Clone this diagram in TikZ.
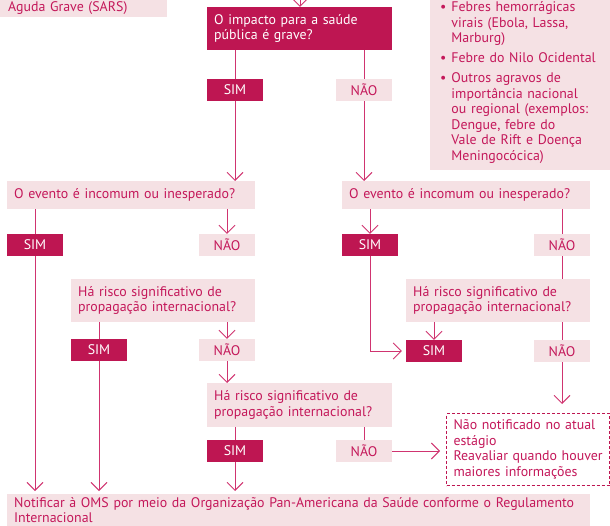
\documentclass[tikz,border=0pt]{standalone}
\usepackage{fontspec}
\setmainfont{PT Sans}
\usetikzlibrary{arrows.meta}

\definecolor{wine}{RGB}{190,22,82}
\definecolor{blush}{RGB}{245,225,228}
\definecolor{rosetext}{RGB}{196,24,90}
\definecolor{roseline}{RGB}{208,52,112}

\tikzset{
  ask/.style={fill=blush, text=rosetext, align=left, anchor=north west, inner xsep=7pt, inner ysep=2pt},
  askdark/.style={ask, fill=wine, text=white},
  yes/.style={fill=wine, text=white, minimum width=56pt, minimum height=22pt, inner sep=0pt},
  no/.style={fill=blush, text=rosetext, minimum width=56pt, minimum height=22pt, inner sep=0pt},
  flow/.style={draw=roseline, line width=0.9pt},
  go/.style={flow, -{Straight Barb[length=8pt,width=16pt,line width=0.9pt]}},
}

\begin{document}
\begin{tikzpicture}[x=1pt, y=-1pt, font=\fontsize{13.9}{15.5}\selectfont]
\useasboundingbox (0,0) rectangle (610,526);
%%%  nodes

% top nodes
\node [ask, anchor=south west, text width=151pt, minimum height=18pt, inner xsep=8pt, inner ysep=0pt] (sars) at (0,17) {Aguda Grave (SARS)};
\coordinate (top) at (300,-10);
\node [askdark, text width=171pt, minimum height=43pt] (impact) at (207,7) {O impacto para a saúde\\pública é grave?};
\node [ask, anchor=south west, text width=160pt, inner xsep=10pt, inner ysep=5pt] (agravos) at (430,170) {%
\begin{tabular}{@{}l@{\hspace{5pt}}l@{}}
\textbullet & Febres hemorrágicas\\
 & virais (Ebola, Lassa,\\
 & Marburg)\\[4.5pt]
\textbullet & Febre do Nilo Ocidental\\[4.5pt]
\textbullet & Outros agravos de\\
 & importância nacional\\
 & ou regional (exemplos:\\
 & Dengue, febre do\\
 & Vale de Rift e Doença\\
 & Meningocócica)
\end{tabular}};

% first answer nodes
\node [yes] (sim1) at (235,90) {SIM};
\node [no] (nao1) at (364,90) {NÃO};

% left branch nodes
\node [ask, text width=234pt, minimum height=28pt] (evL) at (7,181) {O evento é incomum ou inesperado?};
\node [yes] (simL) at (35,245) {SIM};
\node [no] (naoL) at (227,245) {NÃO};
\node [ask, text width=170pt, minimum height=43pt] (riscoL) at (71,279) {Há risco significativo de\\propagação internacional?};
\node [yes] (simL2) at (99,350) {SIM};
\node [no] (naoL2) at (227,350) {NÃO};
\node [ask, text width=171pt, minimum height=44pt] (riscoC) at (207,383) {Há risco significativo de\\propagação internacional?};
\node [yes] (simC) at (235,451) {SIM};
\node [no] (naoC) at (364,451) {NÃO};

% right branch nodes
\node [ask, text width=234pt, minimum height=28pt] (evR) at (342,181) {O evento é incomum ou inesperado?};
\node [yes] (simR) at (370,245) {SIM};
\node [no] (naoR) at (562,245) {NÃO};
\node [ask, text width=170pt, minimum height=43pt] (riscoR) at (406,279) {Há risco significativo de\\propagação internacional?};
\node [yes] (simR2) at (434,351) {SIM};
\node [no] (naoR2) at (562,351) {NÃO};

% end nodes
\node [ask, fill=white, draw=wine, line width=1pt, dash pattern=on 3pt off 2pt, text width=149pt, minimum height=72pt] (aviso) at (446,413) {Não notificado no atual\\estágio\\\mbox{Reavaliar quando houver}\\maiores informações};
\node [ask, text width=569pt, inner ysep=3pt] (notif) at (7,494) {Notificar à OMS por meio da Organização Pan-Americana da Saúde conforme o Regulamento\\Internacional};

%%% edges

% top
\draw [go] (top) -- (top |- impact.north);
\draw [flow] (sim1 |- impact.south) -- (sim1.north);
\draw [go] (sim1.south) -- (sim1 |- evL.north);
\draw [flow] (nao1 |- impact.south) -- (nao1.north);
\draw [go] (nao1.south) -- (nao1 |- evR.north);

% left branch
\draw [flow] (simL |- evL.south) -- (simL.north);
\draw [go, shorten >=3pt] (simL.south) -- (simL |- notif.north);
\draw [go] (naoL |- evL.south) -- (naoL.north);
\draw [flow] (simL2 |- riscoL.south) -- (simL2.north);
\draw [go, shorten >=3pt] (simL2.south) -- (simL2 |- notif.north);
\draw [go] (naoL2 |- riscoL.south) -- (naoL2.north);
\draw [go] (naoL2.south) -- (naoL2 |- riscoC.north);
\draw [flow] (simC |- riscoC.south) -- (simC.north);
\draw [go, shorten >=3pt] (simC.south) -- (simC |- notif.north);
\draw [flow] (naoC |- riscoC.south) -- (naoC.north);
\draw [go, shorten >=6pt] (naoC.east) -- (naoC -| aviso.west);

% right branch
\draw [go] (simR |- evR.south) -- (simR.north);
\draw [go, shorten >=4pt] (simR.south) |- (simR2.west);
\draw [flow] (naoR |- evR.south) -- (naoR.north);
\draw [flow] (naoR.south) -- (naoR |- riscoR.north);
\draw [go] (simR2 |- riscoR.south) -- (simR2.north);
\draw [flow] (naoR2 |- riscoR.south) -- (naoR2.north);
\draw [go, shorten >=9pt] (naoR2.south) -- (naoR2 |- aviso.north);
\end{tikzpicture}
\end{document}
